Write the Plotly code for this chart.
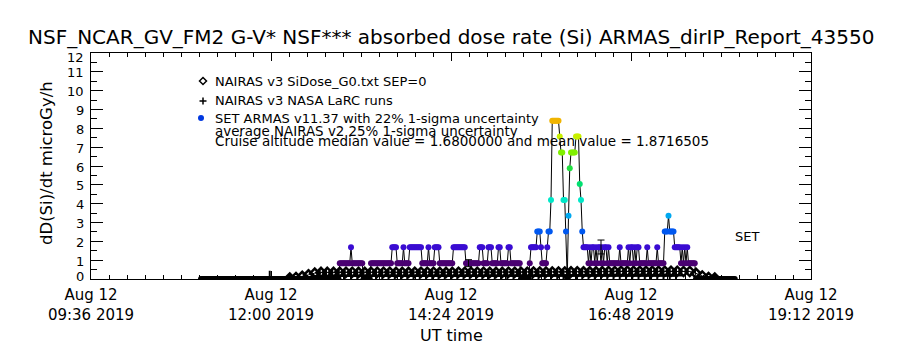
import pandas as pd
import plotly.graph_objects as go

# ---------------- text ----------------
TITLE = "NSF_NCAR_GV_FM2 G-V* NSF*** absorbed dose rate (Si) ARMAS_dirIP_Report_43550"
Y_TITLE = "dD(Si)/dt microGy/h"
X_TITLE = "UT time"
LEGEND_LINES = [
    "NAIRAS v3 SiDose_G0.txt SEP=0",
    "NAIRAS v3 NASA LaRC runs",
    "SET ARMAS v11.37 with 22% 1-sigma uncertainty",
    "average NAIRAS v2 25% 1-sigma uncertainty",
    "Cruise altitude median value = 1.6800000 and mean value = 1.8716505",
]
SET_LABEL = "SET"

# ---------------- axes ----------------
X_RANGE = ["2019-08-12 09:36", "2019-08-12 19:12"]
Y_RANGE = [0, 12]
Y_TICKS = [0, 1, 2, 3, 4, 5, 6, 7, 8, 9, 10, 11, 12]
X_TICK0 = "2019-08-12 09:36"
X_MAJOR_MIN = 144      # minutes between labelled ticks
X_MINOR_MIN = 14.4     # minutes between minor ticks

# ---------------- ARMAS (1-min samples, dose quantised in 0.84 uGy/h steps) ----------------
ARMAS_T0 = "2019-08-12 11:04"
ARMAS_STEP_MIN = 1
ARMAS_QUANTUM = 0.84
# one character per minute = number of quanta (hex digit)
ARMAS_LEVEL_CODES = (
    "0000000000" "0000000000" "0000000000" "0000000000" "0000000000" "0000000000"
    "0000000000" "0000000000" "0000000000" "0000000000" "0000000000" "0"
    "1111111112111111111"
    "000000"
    "11111111111111111"
    "2222" "11111" "2" "1111" "2222222222" "11111" "2" "1111" "2222"
    "11111111111" "2222222222" "11111111111" "222" "1111" "222" "11111"
    "22" "111111" "22" "11111111"
    "0000000"
    "1" "22222" "333" "2" "1111" "2" "33" "5" "AAAAAA" "9" "88" "55" "3" "0" "4" "7"
    "8888" "999" "6" "5" "3"
    "222212122121221212212"
    "11111111" "2" "111111" "212212122" "111111" "2" "1111111" "2" "11111"
    "33343333" "22222" "121212" "111111"
    "0000000000" "0000000000" "0000000000" "00"
)
ARMAS_LEVEL_COLORS = {
    0: "#000000", 1: "#4a0072", 2: "#3a0cd2", 3: "#0058f0", 4: "#00a8f0",
    5: "#00e8c8", 6: "#00e070", 7: "#20e040", 8: "#80f000", 9: "#c8f000",
    10: "#f0b400",
}

# ---------------- NAIRAS v3 SiDose (5-min samples) ----------------
NAIRAS_T0 = "2019-08-12 12:15"
NAIRAS_STEP_MIN = 5
NAIRAS_SIDOSE = [
    0.05, 0.08, 0.14, 0.22, 0.31, 0.35,
    0.35, 0.35, 0.36, 0.36, 0.36, 0.35, 0.35, 0.36, 0.36, 0.36,
    0.36, 0.35, 0.35, 0.35, 0.36, 0.36, 0.36, 0.36, 0.35, 0.35,
    0.35, 0.36, 0.36, 0.36, 0.36, 0.36, 0.35, 0.35, 0.35, 0.36,
    0.36, 0.36, 0.36, 0.37, 0.37, 0.37, 0.37, 0.37, 0.37, 0.38,
    0.38, 0.38, 0.38, 0.38, 0.39,
    0.40, 0.40, 0.41, 0.41, 0.41, 0.41, 0.41, 0.41, 0.41, 0.41, 0.41, 0.41, 0.40, 0.40,
    0.30, 0.16, 0.08, 0.05,
]

# ---------------- NAIRAS v3 NASA LaRC runs (5-min grid, None = no run) ----------------
LARC_T0 = "2019-08-12 11:59"
LARC_STEP_MIN = 5
LARC_VALUES = [
    0.10, None, None, None, None, None, None, None,
    0.16, 0.16, 0.17, 0.17, 0.17, 0.17, 0.17, 0.17, 0.17, 0.17,
    0.17, 0.17, 0.17, 0.17, 0.17, 0.17, 0.17, 0.17, 0.17, 0.17,
    0.17, 0.17, 0.17, 0.17, 0.17, 0.17, 0.17, 0.17, 0.17, 0.17,
    0.17, 0.17, 0.17, 0.17, 0.17, 0.17, 0.18, 0.18, 0.18, 0.18,
    0.18, 0.18, 0.19, 0.19, 0.19, 0.19, 0.19, 0.19, 0.19, 0.19,
    0.19, 0.19, 0.19, 0.19, 0.19, 0.19, 0.19, 0.19,
]

# ---------------- 1-sigma bars ----------------
ERR_TIMES = ["2019-08-12 14:38", "2019-08-12 16:24"]
ERR_VALUES = [0.84, 1.70]
ERR_SIGMA = [0.185, 0.37]

# ================= build =================
FONT = "DejaVu Sans"
W, H = 900, 350
L, R, T, B = 91, 89, 53, 71
PW, PH = W - L - R, H - T - B


def pxx(x):
    return (x - L) / PW


def pxy(y):
    return (H - B - y) / PH


armas_levels = [int(c, 16) for c in ARMAS_LEVEL_CODES]
armas_t = pd.date_range(ARMAS_T0, periods=len(armas_levels), freq=f"{ARMAS_STEP_MIN}min")
armas_v = [k * ARMAS_QUANTUM for k in armas_levels]
armas_c = [ARMAS_LEVEL_COLORS[k] for k in armas_levels]

nairas_t = pd.date_range(NAIRAS_T0, periods=len(NAIRAS_SIDOSE), freq=f"{NAIRAS_STEP_MIN}min")
larc_t = pd.date_range(LARC_T0, periods=len(LARC_VALUES), freq=f"{LARC_STEP_MIN}min")

fig = go.Figure()
fig.add_trace(go.Scatter(
    x=larc_t, y=LARC_VALUES, mode="lines+markers",
    line=dict(color="black", width=2),
    marker=dict(symbol="cross-thin-open", size=9, color="black", line=dict(width=2, color="black")),
))
fig.add_trace(go.Scatter(
    x=nairas_t, y=NAIRAS_SIDOSE, mode="lines+markers",
    line=dict(color="black", width=1),
    marker=dict(symbol="diamond-open", size=7, color="black", line=dict(width=2.5, color="black")),
))
fig.add_trace(go.Scatter(
    x=armas_t, y=armas_v, mode="lines+markers",
    line=dict(color="black", width=1),
    marker=dict(size=6, color=armas_c, line=dict(width=0)),
))
fig.add_trace(go.Scatter(
    x=pd.to_datetime(ERR_TIMES), y=ERR_VALUES, mode="markers",
    marker=dict(size=1, color="rgba(0,0,0,0)"),
    error_y=dict(type="data", array=ERR_SIGMA, color="black", thickness=1, width=3.5),
))

axis_common = dict(
    showline=True, linecolor="black", linewidth=1, mirror="ticks",
    ticks="inside", tickcolor="black", tickwidth=1,
    showgrid=False, zeroline=False,
)
fig.update_xaxes(
    type="date", range=X_RANGE, tickmode="linear", tick0=X_TICK0,
    dtick=X_MAJOR_MIN * 60000, tickformat="%b %d<br>%H:%M %Y", ticklen=8,
    tickfont=dict(family=FONT, size=15, color="black"), ticklabelstandoff=2,
    minor=dict(tickmode="linear", tick0=X_TICK0, dtick=X_MINOR_MIN * 60000,
               ticks="inside", ticklen=4, tickcolor="black", showgrid=False),
    **axis_common,
)
fig.update_yaxes(
    range=Y_RANGE, tickmode="array", tickvals=Y_TICKS, ticklen=12, showticklabels=False,
    minor=dict(tickmode="linear", tick0=0, dtick=0.5, ticks="inside", ticklen=6,
               tickcolor="black", showgrid=False),
    **axis_common,
)

ann = [
    dict(text=TITLE, x=pxx(451), y=pxy(37), xref="paper", yref="paper", showarrow=False,
         font=dict(family=FONT, size=20, color="black"), xanchor="center", yanchor="middle"),
    dict(text=X_TITLE, x=pxx(451), y=pxy(335), xref="paper", yref="paper", showarrow=False,
         font=dict(family=FONT, size=16, color="black"), xanchor="center", yanchor="middle"),
    dict(text=Y_TITLE, x=pxx(46), y=pxy(163), xref="paper", yref="paper", showarrow=False,
         textangle=-90, font=dict(family=FONT, size=16.5, color="black"),
         xanchor="center", yanchor="middle"),
    dict(text=SET_LABEL, x=pxx(733), y=pxy(237), xref="paper", yref="paper", showarrow=False,
         font=dict(family=FONT, size=13, color="black"), xanchor="left", yanchor="middle"),
]
# y tick labels: end labels nudged inside the frame, as in the original
for v in Y_TICKS:
    shift = 3 if v == Y_RANGE[0] else (-4 if v == Y_RANGE[1] else -1)
    ann.append(dict(text=str(v), x=pxx(86), y=v, xref="paper", yref="y", yshift=shift,
                    showarrow=False, font=dict(family=FONT, size=13, color="black"),
                    xanchor="right", yanchor="middle"))

legend_y = [81, 100, 118, 131, 141]
legend_size = [13, 13, 13, 13.4, 13.5]
for txt, yy, fs in zip(LEGEND_LINES, legend_y, legend_size):
    ann.append(dict(text=txt, x=pxx(213), y=pxy(yy), xref="paper", yref="paper",
                    showarrow=False, font=dict(family=FONT, size=fs, color="black"),
                    xanchor="left", yanchor="middle"))

shapes = []
# legend glyph: open diamond
cx, cy, r = 203, 81, 3.5
shapes.append(dict(type="path", xref="paper", yref="paper",
                   path=f"M {pxx(cx)},{pxy(cy - r)} L {pxx(cx + r)},{pxy(cy)} L {pxx(cx)},{pxy(cy + r)} L {pxx(cx - r)},{pxy(cy)} Z",
                   line=dict(color="black", width=1.5), fillcolor="white"))
# legend glyph: plus
cx, cy, r = 203, 101, 3.5
shapes.append(dict(type="path", xref="paper", yref="paper",
                   path=f"M {pxx(cx - r)},{pxy(cy)} L {pxx(cx + r)},{pxy(cy)} M {pxx(cx)},{pxy(cy - r)} L {pxx(cx)},{pxy(cy + r)}",
                   line=dict(color="black", width=1.5)))
# legend glyph: filled blue dot
cx, cy, r = 201, 118, 3
shapes.append(dict(type="circle", xref="paper", yref="paper",
                   x0=pxx(cx - r), x1=pxx(cx + r), y0=pxy(cy + r), y1=pxy(cy - r),
                   line=dict(color="#0038e0", width=0), fillcolor="#0038e0"))

fig.update_layout(
    width=W, height=H, margin=dict(l=L, r=R, t=T, b=B, pad=0),
    plot_bgcolor="white", paper_bgcolor="white", showlegend=False,
    font=dict(family=FONT, color="black"),
    annotations=ann, shapes=shapes,
)
fig.write_html("out.html")
